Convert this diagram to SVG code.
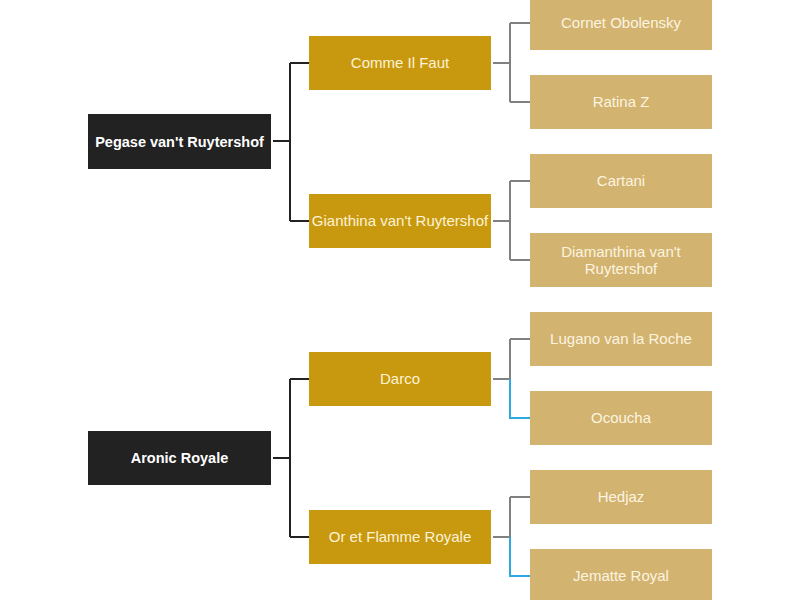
<svg xmlns="http://www.w3.org/2000/svg" width="800" height="600" viewBox="0 0 800 600">
<style>
.root rect{fill:#222222}
.root text{fill:#ffffff;font-weight:bold;font-size:14.5px}
.sire rect{fill:#c8980e}
.sire text{fill:#fdf3d6}
.gs rect{fill:#d2b36f}
.gs text{fill:#fdf4e0}
text{font-family:"Liberation Sans",Arial,sans-serif;font-size:15px;text-anchor:middle;dominant-baseline:central}
.c1{fill:none;stroke:#222222;stroke-width:2}
.c2{fill:none;stroke:#808080;stroke-width:2}
.c3{fill:none;stroke:#2ea8e0;stroke-width:2}
</style>
<rect width="800" height="600" fill="#ffffff"/>
<g id="connectors">
<path class="c1" d="M273 141H290M290 63V221M290 63H309M290 221H309"/>
<path class="c1" d="M273 458H290M290 379V537M290 379H309M290 537H309"/>
<path class="c2" d="M493 63H510M510 23V102M510 23H530M510 102H530"/>
<path class="c2" d="M493 221H510M510 181V260M510 181H530M510 260H530"/>
<path class="c2" d="M493 379H510M510 339V379M510 339H530"/>
<path class="c3" d="M510 379V418H530"/>
<path class="c2" d="M493 537H510M510 497V537M510 497H530"/>
<path class="c3" d="M510 537V576H530"/>
</g>
<g id="n-pegase" class="root"><rect x="88" y="114" width="183" height="55"/><text x="179.5" y="141.5">Pegase van't Ruytershof</text></g>
<g id="n-aronic" class="root"><rect x="88" y="431" width="183" height="54"/><text x="179.5" y="458">Aronic Royale</text></g>
<g id="n-comme" class="sire"><rect x="309" y="36" width="182" height="54"/><text x="400" y="62">Comme Il Faut</text></g>
<g id="n-gianthina" class="sire"><rect x="309" y="194" width="182" height="54"/><text x="400" y="220">Gianthina van't Ruytershof</text></g>
<g id="n-darco" class="sire"><rect x="309" y="352" width="182" height="54"/><text x="400" y="378">Darco</text></g>
<g id="n-oretflamme" class="sire"><rect x="309" y="510" width="182" height="54"/><text x="400" y="536">Or et Flamme Royale</text></g>
<g id="n-cornet" class="gs"><rect x="530" y="-4" width="182" height="54"/><text x="621" y="22">Cornet Obolensky</text></g>
<g id="n-ratina" class="gs"><rect x="530" y="75" width="182" height="54"/><text x="621" y="101">Ratina Z</text></g>
<g id="n-cartani" class="gs"><rect x="530" y="154" width="182" height="54"/><text x="621" y="180">Cartani</text></g>
<g id="n-diamanthina" class="gs"><rect x="530" y="233" width="182" height="54"/><text x="621" y="251">Diamanthina van't</text><text x="621" y="268">Ruytershof</text></g>
<g id="n-lugano" class="gs"><rect x="530" y="312" width="182" height="54"/><text x="621" y="338">Lugano van la Roche</text></g>
<g id="n-ococha" class="gs"><rect x="530" y="391" width="182" height="54"/><text x="621" y="417">Ocoucha</text></g>
<g id="n-hedjaz" class="gs"><rect x="530" y="470" width="182" height="54"/><text x="621" y="496">Hedjaz</text></g>
<g id="n-jematte" class="gs"><rect x="530" y="549" width="182" height="54"/><text x="621" y="575">Jematte Royal</text></g>
</svg>
